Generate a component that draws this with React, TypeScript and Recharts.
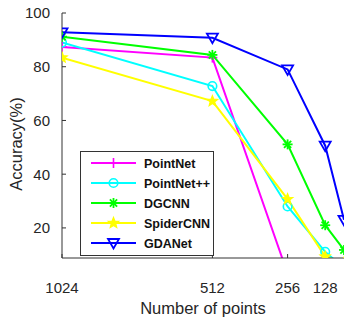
import React from 'react'
import { Line, LineChart, XAxis, YAxis } from 'recharts'

const POINTS = [1024, 512, 256, 128, 64]
const X_TICKS = [1024, 512, 256, 128]
const Y_TICKS = [20, 40, 60, 80, 100]

const POINTNET = [87.3, 83.4, 3, 2, 2]
const POINTNET_PP = [89, 72.8, 28, 11.1, 5]
const DGCNN = [91.2, 84.4, 51.1, 21, 11.8]
const SPIDERCNN = [83.4, 67.2, 30.7, 9.3, 7]
const GDANET = [92.8, 90.8, 79, 50.6, 23]

const SERIES = [
    { key: 'pointnet', name: 'PointNet', color: '#ff00ff', marker: 'plus', values: POINTNET },
    { key: 'pointnetpp', name: 'PointNet++', color: '#00ffff', marker: 'circle', values: POINTNET_PP },
    { key: 'dgcnn', name: 'DGCNN', color: '#00ff00', marker: 'asterisk', values: DGCNN },
    { key: 'spidercnn', name: 'SpiderCNN', color: '#ffff00', marker: 'star', values: SPIDERCNN },
    { key: 'gdanet', name: 'GDANet', color: '#0000ff', marker: 'triangle', values: GDANET },
]

const DATA = POINTS.map((n, i) => {
    const row: Record<string, number> = { n }
    SERIES.forEach((s) => {
        row[s.key] = s.values[i]
    })
    return row
})

const AXIS_COLOR = '#333333'
const TEXT_COLOR = '#262626'
const FONT = '"Liberation Sans", Arial, sans-serif'

function Marker({ type, cx, cy, color }: { type: string; cx: number; cy: number; color: string }) {
    if (cx == null || cy == null) return null
    if (type === 'plus') {
        return (
            <g stroke={color} strokeWidth={1.6}>
                <line x1={cx - 5} y1={cy} x2={cx + 5} y2={cy} />
                <line x1={cx} y1={cy - 5} x2={cx} y2={cy + 5} />
            </g>
        )
    }
    if (type === 'circle') {
        return <circle cx={cx} cy={cy} r={4.3} fill="none" stroke={color} strokeWidth={1.6} />
    }
    if (type === 'asterisk') {
        const d = 3.6
        return (
            <g stroke={color} strokeWidth={1.8}>
                <line x1={cx - 5} y1={cy} x2={cx + 5} y2={cy} />
                <line x1={cx} y1={cy - 5} x2={cx} y2={cy + 5} />
                <line x1={cx - d} y1={cy - d} x2={cx + d} y2={cy + d} />
                <line x1={cx - d} y1={cy + d} x2={cx + d} y2={cy - d} />
            </g>
        )
    }
    if (type === 'star') {
        const pts: string[] = []
        for (let k = 0; k < 10; k++) {
            const r = k % 2 === 0 ? 5.5 : 2.4
            const a = -Math.PI / 2 + (k * Math.PI) / 5
            pts.push(`${cx + r * Math.cos(a)},${cy + r * Math.sin(a)}`)
        }
        return <polygon points={pts.join(' ')} fill={color} stroke={color} strokeWidth={1.2} />
    }
    return (
        <polygon
            points={`${cx - 5.5},${cy - 4} ${cx + 5.5},${cy - 4} ${cx},${cy + 5.5}`}
            fill="none"
            stroke={color}
            strokeWidth={1.8}
        />
    )
}

function LegendBox() {
    return (
        <svg
            width={134}
            height={105}
            style={{ position: 'absolute', left: 80, top: 151, fontFamily: FONT }}
        >
            <rect x={0.5} y={0.5} width={133} height={104} fill="#ffffff" stroke={AXIS_COLOR} />
            {SERIES.map((s, i) => {
                const cy = 12 + i * 20
                return (
                    <g key={s.key}>
                        <line x1={11} y1={cy} x2={56} y2={cy} stroke={s.color} strokeWidth={2} />
                        <Marker type={s.marker} cx={33.5} cy={cy} color={s.color} />
                        <text x={64} y={cy + 4.5} fontSize={12.5} fontWeight="bold" fill="#111111">
                            {s.name}
                        </text>
                    </g>
                )
            })}
        </svg>
    )
}

export default function App() {
    return (
        <div
            style={{
                position: 'absolute',
                left: 0,
                top: 0,
                width: 345,
                height: 320,
                background: '#ffffff',
                fontFamily: FONT,
            }}
        >
            <LineChart
                width={345}
                height={320}
                data={DATA}
                margin={{ top: 13, right: 1, bottom: 0, left: 0 }}
            >
                <XAxis
                    xAxisId="b"
                    dataKey="n"
                    type="number"
                    domain={[64, 1024]}
                    reversed
                    allowDataOverflow
                    ticks={X_TICKS}
                    height={62}
                    stroke={AXIS_COLOR}
                    tickSize={-4}
                    tickMargin={28}
                    tick={{ fontSize: 15, fill: TEXT_COLOR }}
                    label={{
                        value: 'Number of points',
                        position: 'insideBottom',
                        offset: 6.2,
                        fontSize: 16.5,
                        fill: TEXT_COLOR,
                    }}
                />
                <XAxis
                    xAxisId="t"
                    dataKey="n"
                    type="number"
                    orientation="top"
                    domain={[64, 1024]}
                    reversed
                    allowDataOverflow
                    ticks={X_TICKS}
                    height={0}
                    stroke={AXIS_COLOR}
                    tickSize={-4}
                    tickFormatter={() => ''}
                />
                <YAxis
                    yAxisId="l"
                    type="number"
                    domain={[8.8, 100]}
                    allowDataOverflow
                    ticks={Y_TICKS}
                    width={62}
                    stroke={AXIS_COLOR}
                    tickSize={-4}
                    tickMargin={16}
                    tick={{ fontSize: 15, fill: TEXT_COLOR }}
                    label={{
                        content: () => (
                            <text
                                x={16}
                                y={144}
                                transform="rotate(-90 16 144)"
                                textAnchor="middle"
                                dominantBaseline="central"
                                fontSize={16.5}
                                fill={TEXT_COLOR}
                            >
                                Accuracy(%)
                            </text>
                        ),
                    }}
                />
                <YAxis
                    yAxisId="r"
                    type="number"
                    orientation="right"
                    domain={[8.8, 100]}
                    allowDataOverflow
                    ticks={Y_TICKS}
                    width={0}
                    stroke={AXIS_COLOR}
                    tickSize={-4}
                    tickFormatter={() => ''}
                />
                {SERIES.map((s) => (
                    <Line
                        key={s.key}
                        xAxisId="b"
                        yAxisId="l"
                        dataKey={s.key}
                        stroke={s.color}
                        strokeWidth={2}
                        isAnimationActive={false}
                        activeDot={false}
                        dot={(p: any) => (
                            <Marker
                                key={`${s.key}-${p.index}`}
                                type={s.marker}
                                cx={p.cx}
                                cy={p.cy}
                                color={s.color}
                            />
                        )}
                    />
                ))}
            </LineChart>
            <LegendBox />
        </div>
    )
}
